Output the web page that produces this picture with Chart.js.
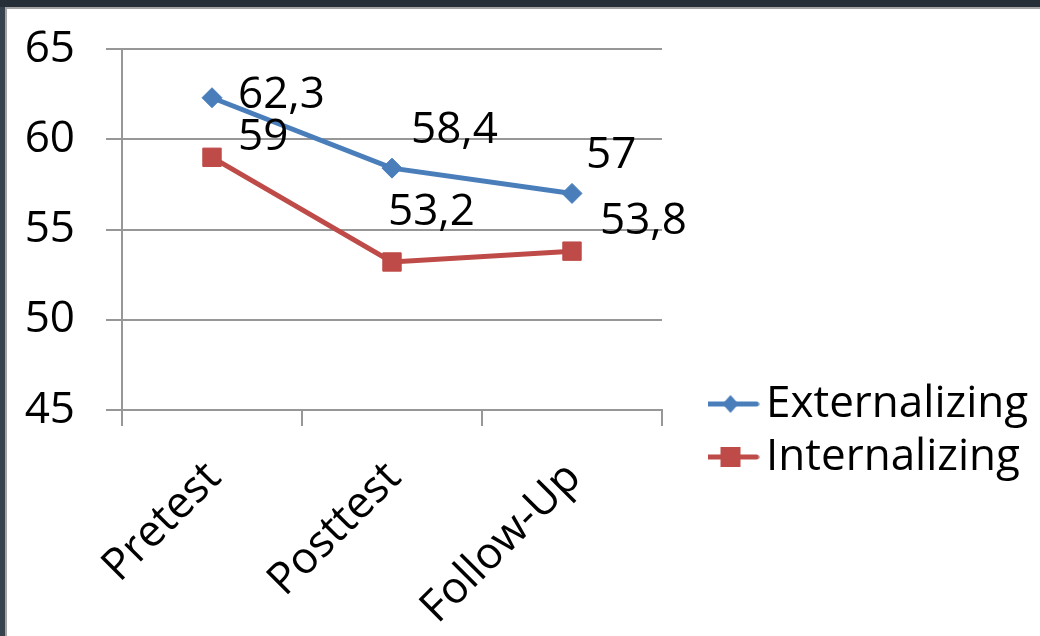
<!DOCTYPE html>
<html>
<head>
<meta charset="utf-8">
<script src="https://cdn.jsdelivr.net/npm/chart.js@4/dist/chart.umd.min.js"></script>
<style>
  html, body { margin: 0; padding: 0; width: 1040px; height: 636px; overflow: hidden; background: #262e38; }
  #band  { position: absolute; left: 0; top: 7px; width: 5px; bottom: 0; background: #36424e; }
  #edge  { position: absolute; left: 5px; top: 7px; right: 0; bottom: 0; background: #a4a4a4; }
  #sheet { position: absolute; left: 7px; top: 9px; right: 0; bottom: 0; background: #ffffff; }
  #chart { position: absolute; left: 0; top: 0; }
</style>
</head>
<body>
<div id="band"></div>
<div id="edge"></div>
<div id="sheet"></div>
<canvas id="chart" width="1040" height="636"></canvas>
<script>
// Measurement occasions and mean scores per problem scale
const categories = ['Pretest', 'Posttest', 'Follow-Up'];
const externalizing = [62.3, 58.4, 57];
const internalizing = [59, 53.2, 53.8];
const yTicks = [45, 50, 55, 60, 65];

// Where each value label sits relative to its point (dx, dy to the text baseline)
const externalizingLabelOffsets = [[26, 10], [19, -25], [14, -25]];
const internalizingLabelOffsets = [[26, -7], [-4, -37], [28, -17]];

const BLUE = '#4a7ebb';
const RED = '#be4b48';
const GRID = '#979797';
const FAMILY = "'Open Sans', sans-serif";
const FONT = { family: FAMILY, size: 44 };

const formatValue = v => String(v).replace('.', ',');

// Legend symbol: a short line with the series marker in the middle
function legendMark(color, shape) {
  const c = document.createElement('canvas');
  c.width = 58; c.height = 26;
  const g = c.getContext('2d');
  g.strokeStyle = color; g.fillStyle = color;
  g.lineWidth = 5; g.lineCap = 'round';
  g.beginPath(); g.moveTo(3, 13); g.lineTo(55, 13); g.stroke();
  g.beginPath();
  if (shape === 'diamond') {
    g.moveTo(29, 4); g.lineTo(37, 13); g.lineTo(29, 22); g.lineTo(21, 13);
  } else {
    g.rect(19, 3, 20, 20);
  }
  g.closePath(); g.fill();
  return c;
}
const legendMarks = [legendMark(BLUE, 'diamond'), legendMark(RED, 'square')];
const labelOffsets = [externalizingLabelOffsets, internalizingLabelOffsets];

// Draws each point's value next to it
const valueLabels = {
  id: 'valueLabels',
  afterDatasetsDraw(chart) {
    const ctx = chart.ctx;
    ctx.save();
    ctx.font = FONT.size + 'px ' + FAMILY;
    ctx.fillStyle = '#000';
    ctx.textAlign = 'left';
    ctx.textBaseline = 'alphabetic';
    chart.data.datasets.forEach((ds, di) => {
      const meta = chart.getDatasetMeta(di);
      meta.data.forEach((pt, i) => {
        const [dx, dy] = labelOffsets[di][i];
        ctx.fillText(formatValue(ds.data[i]), pt.x + dx, pt.y + dy);
      });
    });
    ctx.restore();
  }
};

// Puts the legend to the right of the plot, low on the page
const legendPlacement = {
  id: 'legendPlacement',
  afterLayout(chart) {
    const lg = chart.legend;
    if (!lg) return;
    const w = lg.width;
    lg.left = 708; lg.right = 708 + w;
    lg.top = 373; lg.bottom = 373 + 200; lg.height = 200;
  }
};

// Fixed scale sizes so the plot area keeps its place
function fixPadding(scale) {
  scale.paddingTop = 0; scale.paddingBottom = 0;
  scale.paddingLeft = 0; scale.paddingRight = 0;
}

new Chart(document.getElementById('chart'), {
  type: 'line',
  data: {
    labels: categories,
    datasets: [
      {
        label: 'Externalizing',
        data: externalizing,
        borderColor: BLUE, backgroundColor: BLUE, borderWidth: 5,
        pointStyle: 'rectRot', pointRadius: 10, pointBorderWidth: 1,
        pointBackgroundColor: BLUE, pointBorderColor: BLUE,
        tension: 0
      },
      {
        label: 'Internalizing',
        data: internalizing,
        borderColor: RED, backgroundColor: RED, borderWidth: 5,
        pointStyle: 'rect', pointRadius: 13, pointBorderWidth: 1,
        pointBackgroundColor: RED, pointBorderColor: RED,
        tension: 0
      }
    ]
  },
  options: {
    responsive: false,
    animation: false,
    devicePixelRatio: 1,
    layout: { padding: { left: 0, top: 49, right: 378, bottom: 0 } },
    scales: {
      x: {
        offset: true,
        grid: { offset: true, drawOnChartArea: false, tickLength: 16, color: GRID, lineWidth: 2 },
        border: { display: true, color: GRID, width: 2 },
        ticks: { autoSkip: false, minRotation: 45, maxRotation: 45, padding: 26, labelOffset: 2, font: FONT, color: '#000' },
        afterFit(scale) { scale.height = 226; fixPadding(scale); }
      },
      y: {
        min: yTicks[0],
        max: yTicks[yTicks.length - 1],
        ticks: { stepSize: yTicks[1] - yTicks[0], padding: 31, font: FONT, color: '#000' },
        grid: { color: GRID, lineWidth: 2, tickLength: 16 },
        border: { display: true, color: GRID, width: 2 },
        afterFit(scale) { scale.width = 122; fixPadding(scale); }
      }
    },
    plugins: {
      tooltip: { enabled: false },
      legend: {
        position: 'chartArea',
        align: 'start',
        labels: {
          usePointStyle: true,
          pointStyleWidth: 27,
          padding: 9,
          font: FONT,
          color: '#000',
          generateLabels(chart) {
            const items = Chart.defaults.plugins.legend.labels.generateLabels(chart);
            items.forEach((it, i) => { it.pointStyle = legendMarks[i]; });
            return items;
          }
        }
      }
    }
  },
  plugins: [valueLabels, legendPlacement]
});
</script>
</body>
</html>
